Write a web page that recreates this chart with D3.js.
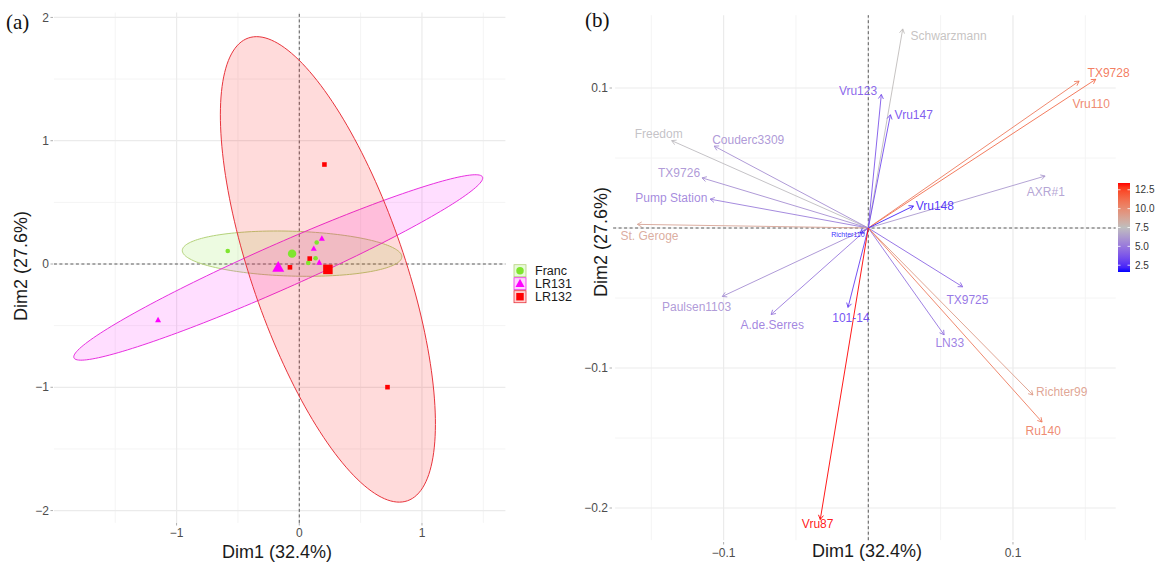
<!DOCTYPE html>
<html>
<head>
<meta charset="utf-8">
<script src="https://cdn.jsdelivr.net/npm/d3@7"></script>
<style>
  body { margin: 0; background: #fff; }
  text { font-family: "Liberation Sans", Arial, sans-serif; }
</style>
</head>
<body>
<svg id="chart" width="1158" height="565"></svg>
<script>
// ---- panel (a): individuals ----
const groups = ["Franc", "LR131", "LR132"];
const groupColors = ["#7FE52E", "#FF00FF", "#FF0000"];
const groupShapes = ["circle", "triangle", "square"];
const indGroup = ["Franc", "Franc", "Franc", "Franc",
                  "LR131", "LR131", "LR131", "LR131",
                  "LR132", "LR132", "LR132", "LR132"];
const indDim1 = [-0.583, 0.142, 0.133, 0.073, -1.151, 0.184, 0.118, 0.163, 0.205, 0.719, -0.076, 0.085];
const indDim2 = [0.106, 0.174, 0.047, 0.009, -0.454, 0.206, 0.124, 0.012, 0.807, -0.999, -0.027, 0.044];
const ticksA = [-2, -1, 0, 1, 2];

// ---- panel (b): variables ----
const varNames = ["Schwarzmann", "TX9728", "Vru110", "Vru123", "Vru147", "Freedom", "Couderc3309",
                  "TX9726", "Pump Station", "AXR#1", "Vru148", "St. Geroge", "Richter110", "Paulsen1103",
                  "A.de.Serres", "101-14", "TX9725", "LN33", "Richter99", "Ru140", "Vru87"];
const varDim1 = [0.0238, 0.1572, 0.1457, 0.0090, 0.0153, -0.1359, -0.1065, -0.1149, -0.1093, 0.1222, 0.0312,
                 -0.1596, -0.0058, -0.1009, -0.0672, -0.0140, 0.0652, 0.0524, 0.1138, 0.1201, -0.0332];
const varDim2 = [0.1422, 0.1062, 0.1049, 0.0954, 0.0809, 0.0624, 0.0585, 0.0358, 0.0206, 0.0371, 0.0157,
                 0.0026, -0.0036, -0.0489, -0.0618, -0.0567, -0.0420, -0.0763, -0.1193, -0.1386, -0.2082];
const varContrib = [7.6, 11.2, 10.6, 3.8, 3.4, 7.4, 5.8, 5.8, 5.2, 6.2, 2.2, 8.8, 1.8, 5.8, 5.0, 3.0, 4.4, 4.8, 9.2, 10.6, 13.4];
const labelDim1 = [0.0555, 0.1661, 0.1541, -0.0071, 0.0314, -0.1449, -0.0830, -0.1308, -0.1361, 0.1227, 0.0460,
                   -0.1512, -0.0141, -0.1187, -0.0664, -0.0120, 0.0685, 0.0563, 0.1337, 0.1209, -0.0350];
const labelDim2 = [0.1371, 0.1113, 0.0889, 0.0984, 0.0809, 0.0675, 0.0631, 0.0397, 0.0219, 0.0263, 0.0160,
                   -0.0054, -0.0043, -0.0562, -0.0691, -0.0644, -0.0510, -0.0819, -0.1172, -0.1446, -0.2109];
const contribTicks = [2.5, 5.0, 7.5, 10.0, 12.5];
const ticksBx = [-0.1, 0.1];
const ticksBy = [0.1, -0.1, -0.2];

const svg = d3.select("#chart");
svg.append("rect").attr("width", 1158).attr("height", 565).attr("fill", "#fff");

const gridMajor = "#EBEBEB", gridMinor = "#F4F4F4", tickCol = "#4D4D4D";
const serif = "'Liberation Serif', 'Times New Roman', serif";

// ================= panel (a) =================
const xA = d3.scaleLinear().domain([-2.0, 1.68]).range([53.9, 505.4]);
const yA = d3.scaleLinear().domain([-2.1, 2.04]).range([522.9, 12.5]);
const gA = svg.append("g");

// grid
[-1.5, -0.5, 0.5, 1.5].forEach(v => gA.append("line")
    .attr("x1", xA(v)).attr("x2", xA(v)).attr("y1", yA.range()[0]).attr("y2", yA.range()[1])
    .attr("stroke", gridMinor).attr("stroke-width", 1));
[-1.5, -0.5, 0.5, 1.5].forEach(v => gA.append("line")
    .attr("y1", yA(v)).attr("y2", yA(v)).attr("x1", xA.range()[0]).attr("x2", xA.range()[1])
    .attr("stroke", gridMinor).attr("stroke-width", 1));
[-1, 0, 1].forEach(v => gA.append("line")
    .attr("x1", xA(v)).attr("x2", xA(v)).attr("y1", yA.range()[0]).attr("y2", yA.range()[1])
    .attr("stroke", gridMajor).attr("stroke-width", 1.2));
ticksA.forEach(v => gA.append("line")
    .attr("y1", yA(v)).attr("y2", yA(v)).attr("x1", xA.range()[0]).attr("x2", xA.range()[1])
    .attr("stroke", gridMajor).attr("stroke-width", 1.2));

// zero lines
gA.append("line").attr("x1", xA.range()[0]).attr("x2", xA.range()[1]).attr("y1", yA(0)).attr("y2", yA(0))
    .attr("stroke", "#333").attr("stroke-width", 0.8).attr("stroke-dasharray", "3,2.5");
gA.append("line").attr("x1", xA(0)).attr("x2", xA(0)).attr("y1", yA.range()[0]).attr("y2", yA.range()[1])
    .attr("stroke", "#333").attr("stroke-width", 0.8).attr("stroke-dasharray", "3,2.5");

// ellipses from group covariance
const ellK = 2.55;
const groupStats = groups.map(gname => {
    const idx = indGroup.map((g, i) => g === gname ? i : -1).filter(i => i >= 0);
    const xs = idx.map(i => indDim1[i]), ys = idx.map(i => indDim2[i]);
    const mx = d3.mean(xs), my = d3.mean(ys), n = xs.length;
    const sxx = d3.sum(xs, x => (x - mx) ** 2) / (n - 1);
    const syy = d3.sum(ys, y => (y - my) ** 2) / (n - 1);
    const sxy = d3.sum(xs.map((x, j) => (x - mx) * (ys[j] - my))) / (n - 1);
    const tr = sxx + syy, det = sxx * syy - sxy * sxy;
    const l1 = tr / 2 + Math.sqrt(tr * tr / 4 - det), l2 = tr / 2 - Math.sqrt(tr * tr / 4 - det);
    const th = 0.5 * Math.atan2(2 * sxy, sxx - syy);
    return {mx, my, a: ellK * Math.sqrt(l1), b: ellK * Math.sqrt(Math.max(l2, 0)), th};
});
const ellLine = d3.line().x(d => xA(d[0])).y(d => yA(d[1]));
const fillOp = [0.14, 0.13, 0.14];
const strokeCols = ["#B4D27A", "#E830E0", "#E8343C"];
groupStats.forEach((s, gi) => {
    const pts = d3.range(0, 361, 2).map(t => {
        const r = t * Math.PI / 180;
        const u = s.a * Math.cos(r), v = s.b * Math.sin(r);
        return [s.mx + u * Math.cos(s.th) - v * Math.sin(s.th), s.my + u * Math.sin(s.th) + v * Math.cos(s.th)];
    });
    gA.append("path").attr("d", ellLine(pts) + "Z")
        .attr("fill", groupColors[gi]).attr("fill-opacity", fillOp[gi])
        .attr("stroke", strokeCols[gi]).attr("stroke-width", 1);
});

// markers
function marker(g, shape, cx, cy, size, col) {
    if (shape === "circle") {
        g.append("circle").attr("cx", cx).attr("cy", cy).attr("r", size / 2).attr("fill", col);
    } else if (shape === "square") {
        g.append("rect").attr("x", cx - size / 2).attr("y", cy - size / 2)
            .attr("width", size).attr("height", size).attr("fill", col);
    } else {
        const h = size * 0.9;
        g.append("path").attr("d", `M${cx},${cy - h * 0.6}L${cx + size / 2},${cy + h * 0.4}L${cx - size / 2},${cy + h * 0.4}Z`)
            .attr("fill", col);
    }
}
indDim1.forEach((x, i) => {
    const gi = groups.indexOf(indGroup[i]);
    const sz = groupShapes[gi] === "triangle" ? 6 : 4.6;
    marker(gA, groupShapes[gi], xA(x), yA(indDim2[i]), sz, groupColors[gi]);
});
groupStats.forEach((s, gi) => {
    const sz = groupShapes[gi] === "circle" ? 8.4 : (groupShapes[gi] === "square" ? 9.5 : 12);
    marker(gA, groupShapes[gi], xA(s.mx), yA(s.my), sz, groupColors[gi]);
});

// axes text
ticksA.forEach(v => {
    const lab = v < 0 ? "\u2212" + Math.abs(v) : String(v);
    gA.append("text").attr("x", 49).attr("y", yA(v)).attr("dy", "0.35em").attr("text-anchor", "end")
        .attr("font-size", 12).attr("fill", tickCol).text(lab);
    gA.append("line").attr("x1", 50.5).attr("x2", 53).attr("y1", yA(v)).attr("y2", yA(v)).attr("stroke", "#999").attr("stroke-width", 0.8);
});
[-1, 0, 1].forEach(v => {
    const lab = v < 0 ? "\u2212" + Math.abs(v) : String(v);
    gA.append("text").attr("x", xA(v)).attr("y", 533).attr("dy", "0.35em").attr("text-anchor", "middle")
        .attr("font-size", 12).attr("fill", tickCol).text(lab);
    gA.append("line").attr("x1", xA(v)).attr("x2", xA(v)).attr("y1", 523).attr("y2", 525.5).attr("stroke", "#999").attr("stroke-width", 0.8);
});
gA.append("text").attr("x", 277).attr("y", 551.5).attr("dy", "0.35em").attr("text-anchor", "middle")
    .attr("font-size", 18).attr("fill", "#1a1a1a").text("Dim1 (32.4%)");
gA.append("text").attr("transform", "translate(21,266) rotate(-90)").attr("dy", "0.35em").attr("text-anchor", "middle")
    .attr("font-size", 18).attr("fill", "#1a1a1a").text("Dim2 (27.6%)");
svg.append("text").attr("x", 6).attr("y", 29).style("font-family", serif)
    .attr("font-size", 21).attr("fill", "#111").text("(a)");

// legend
groups.forEach((gname, gi) => {
    const cy = 270.7 + gi * 13;
    const lg = gA.append("g");
    lg.append("rect").attr("x", 514).attr("y", cy - 6).attr("width", 12).attr("height", 12)
        .attr("fill", groupColors[gi]).attr("fill-opacity", 0.18)
        .attr("stroke", strokeCols[gi]).attr("stroke-width", 0.8);
    marker(lg, groupShapes[gi], 520, cy, groupShapes[gi] === "triangle" ? 9 : 7.5, groupColors[gi]);
    lg.append("text").attr("x", 535).attr("y", cy).attr("dy", "0.36em").attr("font-size", 12.5)
        .attr("fill", "#1a1a1a").text(gname);
});

// ================= panel (b) =================
const xB = d3.scaleLinear().domain([-0.175, 0.171]).range([615.1, 1115.7]);
const yB = d3.scaleLinear().domain([-0.223, 0.152]).range([540.2, 15.2]);
const gB = svg.append("g");
const colB = d3.scaleLinear().domain([1.6, 7.5, 13.4]).range(["#0000FF", "#BEBEBE", "#FF0000"]).interpolate(d3.interpolateLab);

[-0.15, -0.05, 0.05, 0.15].forEach(v => gB.append("line")
    .attr("x1", xB(v)).attr("x2", xB(v)).attr("y1", yB.range()[0]).attr("y2", yB.range()[1])
    .attr("stroke", gridMinor).attr("stroke-width", 1));
[-0.15, -0.05, 0.05].forEach(v => gB.append("line")
    .attr("y1", yB(v)).attr("y2", yB(v)).attr("x1", xB.range()[0]).attr("x2", xB.range()[1])
    .attr("stroke", gridMinor).attr("stroke-width", 1));
[-0.1, 0, 0.1].forEach(v => gB.append("line")
    .attr("x1", xB(v)).attr("x2", xB(v)).attr("y1", yB.range()[0]).attr("y2", yB.range()[1])
    .attr("stroke", gridMajor).attr("stroke-width", 1.2));
[-0.2, -0.1, 0, 0.1].forEach(v => gB.append("line")
    .attr("y1", yB(v)).attr("y2", yB(v)).attr("x1", xB.range()[0]).attr("x2", xB.range()[1])
    .attr("stroke", gridMajor).attr("stroke-width", 1.2));

gB.append("line").attr("x1", xB.range()[0] - 2).attr("x2", xB.range()[1]).attr("y1", yB(0)).attr("y2", yB(0))
    .attr("stroke", "#333").attr("stroke-width", 0.8).attr("stroke-dasharray", "3,2.5");
gB.append("line").attr("x1", xB(0)).attr("x2", xB(0)).attr("y1", yB.range()[0]).attr("y2", yB.range()[1])
    .attr("stroke", "#333").attr("stroke-width", 0.8).attr("stroke-dasharray", "3,2.5");

// arrows
varNames.forEach((name, i) => {
    const c = colB(varContrib[i]);
    const x0 = xB(0), y0 = yB(0), x1 = xB(varDim1[i]), y1 = yB(varDim2[i]);
    const ang = Math.atan2(y1 - y0, x1 - x0), hl = 5, ha = Math.PI / 6;
    gB.append("line").attr("x1", x0).attr("y1", y0).attr("x2", x1).attr("y2", y1)
        .attr("stroke", c).attr("stroke-width", 0.9);
    gB.append("path")
        .attr("d", `M${x1 - hl * Math.cos(ang - ha)},${y1 - hl * Math.sin(ang - ha)}L${x1},${y1}L${x1 - hl * Math.cos(ang + ha)},${y1 - hl * Math.sin(ang + ha)}`)
        .attr("fill", "none").attr("stroke", c).attr("stroke-width", 0.9);
});
varNames.forEach((name, i) => {
    gB.append("text").attr("x", xB(labelDim1[i])).attr("y", yB(labelDim2[i])).attr("dy", "0.36em")
        .attr("text-anchor", "middle").attr("font-size", name === "Richter110" ? 7 : 12)
        .attr("fill", colB(varContrib[i])).attr("fill-opacity", 0.9).text(name);
});

ticksBy.forEach(v => {
    gB.append("text").attr("x", 608).attr("y", yB(v)).attr("dy", "0.35em").attr("text-anchor", "end")
        .attr("font-size", 12).attr("fill", tickCol).text(v < 0 ? "\u2212" + Math.abs(v) : String(v));
    gB.append("line").attr("x1", 609.5).attr("x2", 612).attr("y1", yB(v)).attr("y2", yB(v)).attr("stroke", "#999").attr("stroke-width", 0.8);
});
ticksBx.forEach(v => {
    gB.append("text").attr("x", xB(v)).attr("y", 553).attr("dy", "0.35em").attr("text-anchor", "middle")
        .attr("font-size", 12).attr("fill", tickCol).text(v < 0 ? "\u2212" + Math.abs(v) : String(v));
    gB.append("line").attr("x1", xB(v)).attr("x2", xB(v)).attr("y1", 542).attr("y2", 544.5).attr("stroke", "#999").attr("stroke-width", 0.8);
});
gB.append("text").attr("x", 867).attr("y", 550.5).attr("dy", "0.35em").attr("text-anchor", "middle")
    .attr("font-size", 18).attr("fill", "#1a1a1a").text("Dim1 (32.4%)");
gB.append("text").attr("transform", "translate(601,242) rotate(-90)").attr("dy", "0.35em").attr("text-anchor", "middle")
    .attr("font-size", 18).attr("fill", "#1a1a1a").text("Dim2 (27.6%)");
svg.append("text").attr("x", 585).attr("y", 27).style("font-family", serif)
    .attr("font-size", 21).attr("fill", "#111").text("(b)");

// colour bar
const cbTop = 183, cbBot = 272, cbX = 1118, cbW = 12;
const cbY = d3.scaleLinear().domain([1.6, 13.4]).range([cbBot, cbTop]);
const grad = svg.append("defs").append("linearGradient").attr("id", "cbgrad")
    .attr("x1", 0).attr("y1", 1).attr("x2", 0).attr("y2", 0);
d3.range(0, 1.0001, 0.05).forEach(t => grad.append("stop").attr("offset", t)
    .attr("stop-color", colB(1.6 + t * (13.4 - 1.6))));
gB.append("rect").attr("x", cbX).attr("y", cbTop).attr("width", cbW).attr("height", cbBot - cbTop)
    .attr("fill", "url(#cbgrad)");
contribTicks.forEach(v => {
    gB.append("line").attr("x1", cbX).attr("x2", cbX + 2.5).attr("y1", cbY(v)).attr("y2", cbY(v)).attr("stroke", "#fff").attr("stroke-width", 0.8);
    gB.append("line").attr("x1", cbX + cbW - 2.5).attr("x2", cbX + cbW).attr("y1", cbY(v)).attr("y2", cbY(v)).attr("stroke", "#fff").attr("stroke-width", 0.8);
    gB.append("text").attr("x", 1135).attr("y", cbY(v)).attr("dy", "0.35em").attr("font-size", 10)
        .attr("fill", "#333").text(v.toFixed(1));
});
</script>
</body>
</html>
